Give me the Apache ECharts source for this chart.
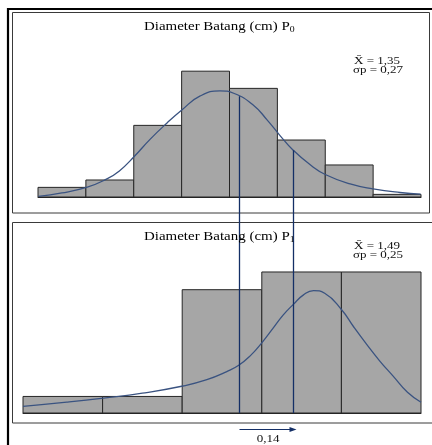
<!DOCTYPE html>
<html><head><meta charset="utf-8">
<script src="https://cdn.jsdelivr.net/npm/echarts@6/dist/echarts.min.js"></script>
<style>html,body{margin:0;padding:0;background:#fff}#c{width:432px;height:445px}</style>
</head><body><div id="c"></div>
<script>
// ---- data ----
const panelTitles = ['Diameter Batang (cm) P', 'Diameter Batang (cm) P'];
const panelSubs = ['0', '1'];
const statsTop = ['X\u0304 = 1,35', '\u03c3p = 0,27'];
const statsBottom = ['X\u0304 = 1,49', '\u03c3p = 0,25'];
// histogram bar heights (bins of equal width, in bin-index units)
const topBins = [1.07, 1.89, 7.96, 13.98, 12.07, 6.33, 3.56, 0.29];
const bottomBins = [1.84, 1.84, 13.7, 15.67, 15.67];
// fitted curves read as [bin position, height]
const topCurve = [[0.01,0.07],[0.5,0.45],[1.03,1.1],[1.40,1.9],[1.70,2.9],[2.01,4.5],[2.34,6.4],[2.69,8.2],[3.01,9.7],[3.38,11.2],[3.80,11.8],[4.10,11.5],[4.50,10.2],[4.78,8.6],[5.06,6.8],[5.33,5.2],[5.68,3.6],[6.00,2.5],[6.52,1.45],[7.00,0.9],[7.56,0.5],[7.99,0.33]];
const bottomCurve = [[0.0,0.73],[0.55,1.2],[1.01,1.65],[1.50,2.2],[2.01,3.0],[2.31,3.7],[2.56,4.6],[2.71,5.3],[2.86,6.4],[3.00,7.8],[3.14,9.4],[3.27,10.9],[3.40,12.1],[3.52,13.1],[3.65,13.6],[3.79,13.3],[4.00,11.5],[4.16,9.5],[4.32,7.6],[4.48,5.8],[4.65,4.1],[4.83,2.3],[5.00,1.2]];
// reference lines (positions in top-panel units, starting on the top curve)
const refLineX = [4.2, 5.33];
const refLineTopY = [11.2, 5.2];
const shiftLabel = '0,14';

const chart = echarts.init(document.getElementById('c'), null, {renderer: 'canvas'});
const barFill = '#a6a6a6', barStroke = '#262626', curveColor = '#3a5381', refColor = '#142f66';
const serif = '"Liberation Serif", "Times New Roman", serif';

function barSeries(bins, idx) {
  return {
    type: 'custom', xAxisIndex: idx, yAxisIndex: idx, z: 2,
    data: bins.map((h, i) => [i, i + 1, h]),
    encode: {x: [0, 1], y: 2},
    renderItem: function (params, api) {
      const a = api.coord([api.value(0), api.value(2)]);
      const b = api.coord([api.value(1), 0]);
      return {type: 'rect', shape: {x: a[0], y: a[1], width: b[0] - a[0], height: b[1] - a[1]},
        style: {fill: barFill, stroke: barStroke, lineWidth: 1}};
    }
  };
}
function curveSeries(data, idx) {
  return {type: 'line', xAxisIndex: idx, yAxisIndex: idx, data: data, smooth: 0.5,
    symbol: 'none', z: 4, lineStyle: {color: curveColor, width: 1.3}};
}
function xAx(idx, max) {
  return {gridIndex: idx, type: 'value', min: 0, max: max,
    axisLine: {show: true, onZero: false, lineStyle: {color: '#222', width: 1}},
    axisTick: {show: false}, axisLabel: {show: false}, splitLine: {show: false}};
}
function txt(id, text, x, y, size, align) {
  return {id: id, type: 'text', x: x, y: y, scaleX: 1.3, z: 20,
    style: {text: text, fontFamily: serif, fontSize: size, fill: '#111', align: align || 'left', verticalAlign: 'middle'}};
}
function titleTxt(id, main, sub, x, y) {
  return {id: id, type: 'text', x: x, y: y, scaleX: 1.3, z: 20,
    style: {text: '{a|' + main + '}{s|' + sub + '}', fontFamily: serif, fill: '#000', align: 'left', verticalAlign: 'middle',
      rich: {a: {fontFamily: serif, fontSize: 11.5, lineHeight: 14, fill: '#000'},
             s: {fontFamily: serif, fontSize: 7.5, lineHeight: 7.5, verticalAlign: 'bottom', fill: '#000'}}}};
}

chart.setOption({
  animation: false,
  backgroundColor: '#fff',
  grid: [{left: 38, width: 383, top: 17, height: 180}, {left: 23, width: 398, top: 233, height: 180}],
  xAxis: [xAx(0, topBins.length), xAx(1, bottomBins.length)],
  yAxis: [{gridIndex: 0, type: 'value', min: 0, max: 20, show: false},
          {gridIndex: 1, type: 'value', min: 0, max: 20, show: false}],
  series: [barSeries(topBins, 0), curveSeries(topCurve, 0), barSeries(bottomBins, 1), curveSeries(bottomCurve, 1)]
});

const base = chart.convertToPixel({gridIndex: 1}, [0, 0])[1];
const g = [
  {id: 'outer', type: 'rect', z: 1, shape: {x: 8, y: 9, width: 500, height: 500}, style: {fill: null, stroke: '#000', lineWidth: 2.2}},
  {id: 'p0', type: 'rect', z: 1, shape: {x: 12.5, y: 12.5, width: 417, height: 200.5}, style: {fill: null, stroke: '#3a3a3a', lineWidth: 1}},
  {id: 'p1', type: 'rect', z: 1, shape: {x: 12.5, y: 222.5, width: 500, height: 200.5}, style: {fill: null, stroke: '#3a3a3a', lineWidth: 1}},
  titleTxt('t0', panelTitles[0], panelSubs[0], 144, 27),
  titleTxt('t1', panelTitles[1], panelSubs[1], 144, 237),
  txt('s0a', statsTop[0], 354, 61, 10),
  txt('s0b', statsTop[1], 353, 70, 10),
  txt('s1a', statsBottom[0], 354, 246, 10),
  txt('s1b', statsBottom[1], 353, 255, 10)
];
const xs = [];
refLineX.forEach((rx, i) => {
  const p = chart.convertToPixel({gridIndex: 0}, [rx, refLineTopY[i]]);
  const x = Math.round(p[0]) + 0.5;
  xs.push(x);
  g.push({id: 'ref' + i, type: 'line', z: 10, shape: {x1: x, y1: p[1], x2: x, y2: base},
    style: {stroke: refColor, lineWidth: 1.3}});
});
const ay = Math.round(base + 16) + 0.5;
const tip = xs[1] + 3;
g.push({id: 'arrow', type: 'line', z: 10, shape: {x1: xs[0], y1: ay, x2: tip - 4, y2: ay}, style: {stroke: refColor, lineWidth: 1.1}});
g.push({id: 'head', type: 'polygon', z: 10, shape: {points: [[tip, ay], [tip - 7, ay - 2.5], [tip - 7, ay + 2.5]]}, style: {fill: refColor}});
g.push(txt('shift', shiftLabel, (xs[0] + tip) / 2, ay + 9.5, 10, 'center'));
chart.setOption({graphic: g});
</script></body></html>
